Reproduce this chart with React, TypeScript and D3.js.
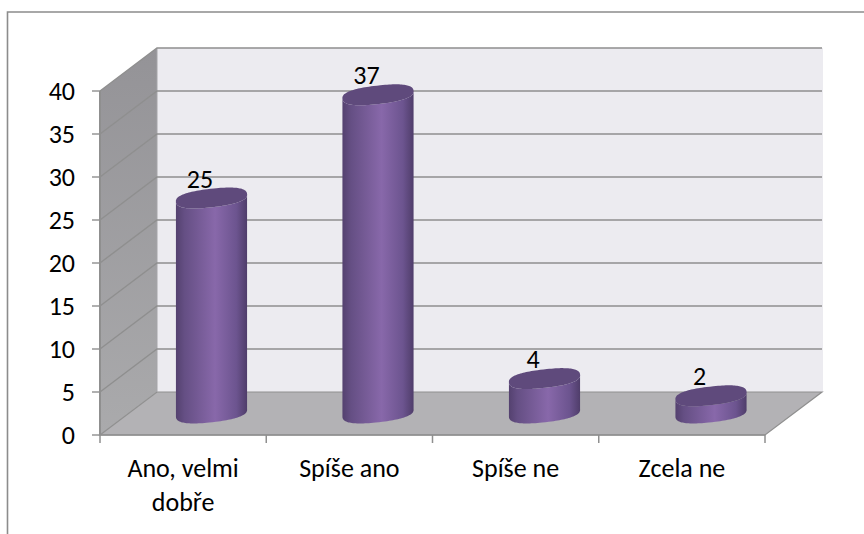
import React from "react";
import * as d3 from "d3";

const categories = [["Ano, velmi", "dobře"], ["Spíše ano"], ["Spíše ne"], ["Zcela ne"]];
const values = [25, 37, 4, 2];
const ticks = [0, 5, 10, 15, 20, 25, 30, 35, 40];

const W = 864, H = 534;
const x0 = 100, x1 = 765, y0 = 435, y40 = 91;
const dx = 57, dy = -43;
const y = d3.scaleLinear().domain([0, 40]).range([y0, y40]);
const x = d3.scaleBand<number>().domain(d3.range(categories.length)).range([x0, x1]);
const font = "Carlito, Lato, 'Open Sans', sans-serif";
const grid = "#8f8f8f";
const rx = 35.8, ry = 9.2, tilt = (-6.5 * Math.PI) / 180, power = 2 / 2.5;
const baseOffset = -22;
const centers = [211.5, 378, 544.5, 711];

const line = d3.line();
const sp = (v: number) => Math.sign(v) * Math.pow(Math.abs(v), power);
function ell(t: number, cx: number, cy: number): [number, number] {
  const a = rx * sp(Math.cos(t)), b = ry * sp(Math.sin(t));
  return [cx + a * Math.cos(tilt) - b * Math.sin(tilt), cy + a * Math.sin(tilt) + b * Math.cos(tilt)];
}
function body(cx: number, topY: number, baseY: number) {
  const steps = d3.range(0, 61).map((i) => (i / 60) * Math.PI);
  const lowEnd = steps.map((t) => ell(t, cx, baseY));
  const topArc = [...steps].reverse().map((t) => ell(t, cx, topY));
  return line([...lowEnd, ...topArc]) + "Z";
}
function top(cx: number, cy: number) {
  return line(d3.range(0, 121).map((i) => ell((i / 120) * 2 * Math.PI, cx, cy))) + "Z";
}

export default function App() {
  return (
    <svg width={W} height={H} style={{ position: "fixed", left: 0, top: 0, background: "#fff" }}>
      <defs>
        <linearGradient id="cyl" x1="0" x2="1" y1="0" y2="0">
          <stop offset="0" stopColor="#54416f" />
          <stop offset="0.12" stopColor="#654f84" />
          <stop offset="0.55" stopColor="#8868aa" />
          <stop offset="0.85" stopColor="#6c548f" />
          <stop offset="1" stopColor="#4f3d6a" />
        </linearGradient>
        <linearGradient id="side" x1="0" x2="0" y1="0" y2="1">
          <stop offset="0" stopColor="#949397" />
          <stop offset="1" stopColor="#aaaaac" />
        </linearGradient>
      </defs>
      <path d={`M7.5 534V12H864`} fill="none" stroke="#8c8c8c" strokeWidth={1.6} />
      <path d={`M${x0} ${y(0)}L${x0 + dx} ${y(0) + dy}V${y(40) + dy}L${x0} ${y(40)}Z`} fill="url(#side)" />
      <rect x={x0 + dx} y={y(40) + dy} width={x1 - x0 + 1} height={y(0) - y(40)} fill="#ecebf0" />
      <path d={`M${x0} ${y(0)}L${x0 + dx} ${y(0) + dy}H${x1 + dx}L${x1} ${y(0)}Z`} fill="#b3b2b5" stroke={grid} strokeWidth={1.2} />
      <line x1={x0 + dx} x2={x0 + dx} y1={y(40) + dy} y2={y(0) + dy} stroke="#a5a5a8" strokeWidth={1} />
      {ticks.map((t) => (
        <g key={t}>
          {t > 0 && (
            <path d={`M${x0} ${y(t)}L${x0 + dx} ${y(t) + dy}H${x1 + dx}`} fill="none" stroke={grid} strokeWidth={1.4} />
          )}
          <line x1={x0 - 8} x2={x0} y1={y(t)} y2={y(t)} stroke={grid} strokeWidth={1.4} />
          <text x={75} y={y(t) + 9} textAnchor="end" fontFamily={font} fontSize={26} fill="#000">{t}</text>
        </g>
      ))}
      <line x1={x0} x2={x0} y1={y40} y2={y0} stroke={grid} strokeWidth={2} />
      <line x1={x0} x2={x1} y1={y0} y2={y0} stroke={grid} strokeWidth={1.6} />
      {d3.range(categories.length + 1).map((i) => {
        const tx = i < categories.length ? x(i)! : x1;
        return <line key={i} x1={tx} x2={tx} y1={y0} y2={y0 + 8} stroke={grid} strokeWidth={1.5} />;
      })}
      {values.map((v, i) => {
        const cx = centers[i];
        const baseY = y0 + baseOffset;
        const topY = y(v) + baseOffset;
        return (
          <g key={i}>
            <path d={body(cx, topY, baseY)} fill="url(#cyl)" />
            <path d={top(cx, topY)} fill="#5f4a7c" />
            <text x={cx - 11.5} y={topY - 10.5} textAnchor="middle" fontFamily={font} fontSize={26} fill="#000">{v}</text>
          </g>
        );
      })}
      {categories.map((c, i) => (
        <text key={i} textAnchor="middle" fontFamily={font} fontSize={26} fill="#000">
          {c.map((s, j) => (
            <tspan key={j} x={x(i)! + x.bandwidth() / 2} y={477 + j * 34}>{s}</tspan>
          ))}
        </text>
      ))}
    </svg>
  );
}
